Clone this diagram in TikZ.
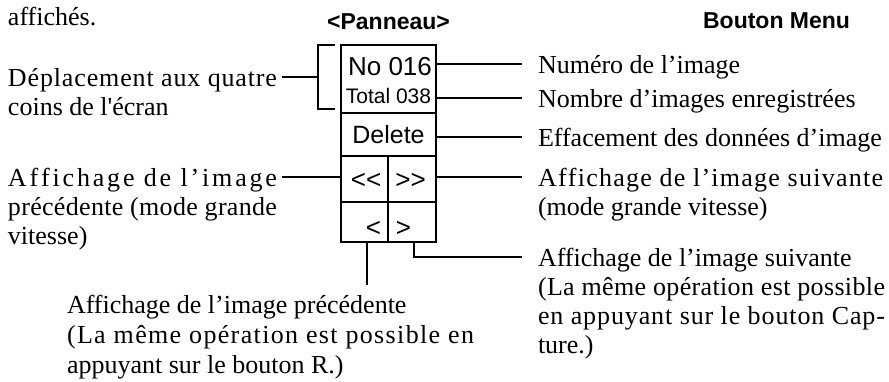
\documentclass[tikz,border=0pt]{standalone}
\usepackage{fontspec}
\setmainfont{Liberation Serif}
\newfontfamily\arialf{Liberation Sans}
\ExplSyntaxOn
\bool_new:N \l_sp_wfirst_bool
\bool_new:N \l_sp_lfirst_bool
\seq_new:N \l_sp_words_seq
\cs_new_protected:Npn \sp_spread:n #1
  {
    \seq_set_split:Nnn \l_sp_words_seq { ~ } {#1}
    \bool_set_true:N \l_sp_wfirst_bool
    \seq_map_inline:Nn \l_sp_words_seq
      {
        \bool_if:NF \l_sp_wfirst_bool { \hfil \c_space_tl }
        \bool_set_false:N \l_sp_wfirst_bool
        \bool_set_true:N \l_sp_lfirst_bool
        \tl_map_inline:nn {##1}
          {
            \bool_if:NF \l_sp_lfirst_bool { \hfil }
            \bool_set_false:N \l_sp_lfirst_bool
            ####1
          }
      }
  }
\NewDocumentCommand \spreadline { m m }
  { \makebox[#1][s]{ \sp_spread:n {#2} } }
\ExplSyntaxOff
\begin{document}
\begin{tikzpicture}[x=1pt,y=-1pt,
  txt/.style={inner sep=0pt, outer sep=0pt, anchor=base west, font=\fontsize{26}{29}\selectfont},
  head/.style={inner sep=0pt, outer sep=0pt, font=\arialf\bfseries\fontsize{23}{27}\selectfont},
  keytxt/.style={inner sep=0pt, outer sep=0pt, anchor=base, font=\arialf\fontsize{26}{30}\selectfont},
  cell/.style={draw, line width=1.2pt, inner sep=0pt, outer sep=0pt, anchor=north west},
  outer/.style={line width=2.5pt, line join=miter},
  lead/.style={line width=2.5pt, line join=miter}]
\useasboundingbox (0,0) rectangle (889,381);

% top texts
\node[txt] (aff) at (8,25) {affichés.};
\node[head, anchor=base] (pan) at (388.5,29) {<Panneau>};
\node[head, anchor=base east] (menu) at (850,28) {Bouton Menu};

% panel cells
\node[cell, minimum width=95pt, minimum height=68pt] (c1) at (341,45) {};
\node[cell, minimum width=95pt, minimum height=43pt] (c2) at (c1.south west) {};
\node[cell, minimum width=47pt, minimum height=46pt] (c3) at (c2.south west) {};
\node[cell, minimum width=48pt, minimum height=46pt] (c4) at (c3.north east) {};
\node[cell, minimum width=47pt, minimum height=40pt] (c5) at (c3.south west) {};
\node[cell, minimum width=48pt, minimum height=40pt] (c6) at (c5.north east) {};
\draw[outer] (c1.north west) rectangle (c6.south east);

% panel texts
\node[keytxt] (no) at (390,75) {No 016};
\node[keytxt, font=\arialf\fontsize{21}{24}\selectfont] (tot) at (388.5,103) {Total 038};
\node[keytxt, font=\arialf\fontsize{25}{28}\selectfont] (del) at (388.5,143) {Delete};
\node[keytxt] (ll) at (366,188) {\hbox{<}\hbox{<}};
\node[keytxt] (rr) at (410.5,188) {\hbox{>}\hbox{>}};
\node[keytxt] (l) at (373.5,236) {<};
\node[keytxt] (r) at (403.5,236) {>};

% bracket
\draw[lead] (335,45) -- (318,45) -- (318,109) -- (335,109);

% leader end points
\coordinate (brk) at (318,77);
\coordinate (e1) at (282,77);
\coordinate (e2) at (282,177);
\coordinate (f1) at (522,64);
\coordinate (f2) at (522,98);
\coordinate (f3) at (522,137);
\coordinate (f4) at (522,177);
\coordinate (f5) at (522,257);
\coordinate (k5) at (414,257);
\coordinate (g1) at (367,285);

% leaders
\draw[lead] (e1) -- (brk);
\draw[lead] (e2) -- (e2 -| c3.west);
\draw[lead] (f1 -| c1.east) -- (f1);
\draw[lead] (f2 -| c1.east) -- (f2);
\draw[lead] (f3 -| c2.east) -- (f3);
\draw[lead] (f4 -| c4.east) -- (f4);
\draw[lead] (k5 |- c6.south) -- (k5) -- (f5);
\draw[lead] (g1 |- c5.south) -- (g1);

% right texts
\node[txt] (t1) at (538,73) {Numéro de l’image};
\node[txt] (t2) at (538,107) {Nombre d’images enregistrées};
\node[txt] (t3) at (538,146) {Effacement des données d’image};
\node[txt] (t4a) at (538,186) {\spreadline{345pt}{Affichage de l’image suivante}};
\node[txt] (t4b) at (538,215) {(mode grande vitesse)};
\node[txt] (t5a) at (538,266) {Affichage de l’image suivante};
\node[txt] (t5b) at (538,295) {\spreadline{347pt}{(La même opération est possible}};
\node[txt] (t5c) at (538,324) {\spreadline{347pt}{en appuyant sur le bouton Cap-}};
\node[txt] (t5d) at (538,353) {ture.)};

% left texts
\node[txt] (l1a) at (8,86) {\spreadline{269pt}{Déplacement aux quatre}};
\node[txt] (l1b) at (8,115) {coins de l\textquotesingle écran};
\node[txt] (l2a) at (8,186) {\spreadline{269pt}{Affichage de l’image}};
\node[txt] (l2b) at (8,215) {\spreadline{269pt}{précédente (mode grande}};
\node[txt] (l2c) at (8,244) {vitesse)};

% bottom texts
\node[txt] (b1a) at (67,313) {Affichage de l’image précédente};
\node[txt] (b1b) at (67,343) {\spreadline{407pt}{(La même opération est possible en}};
\node[txt] (b1c) at (67,373) {appuyant sur le bouton R.)};
\end{tikzpicture}
\end{document}
